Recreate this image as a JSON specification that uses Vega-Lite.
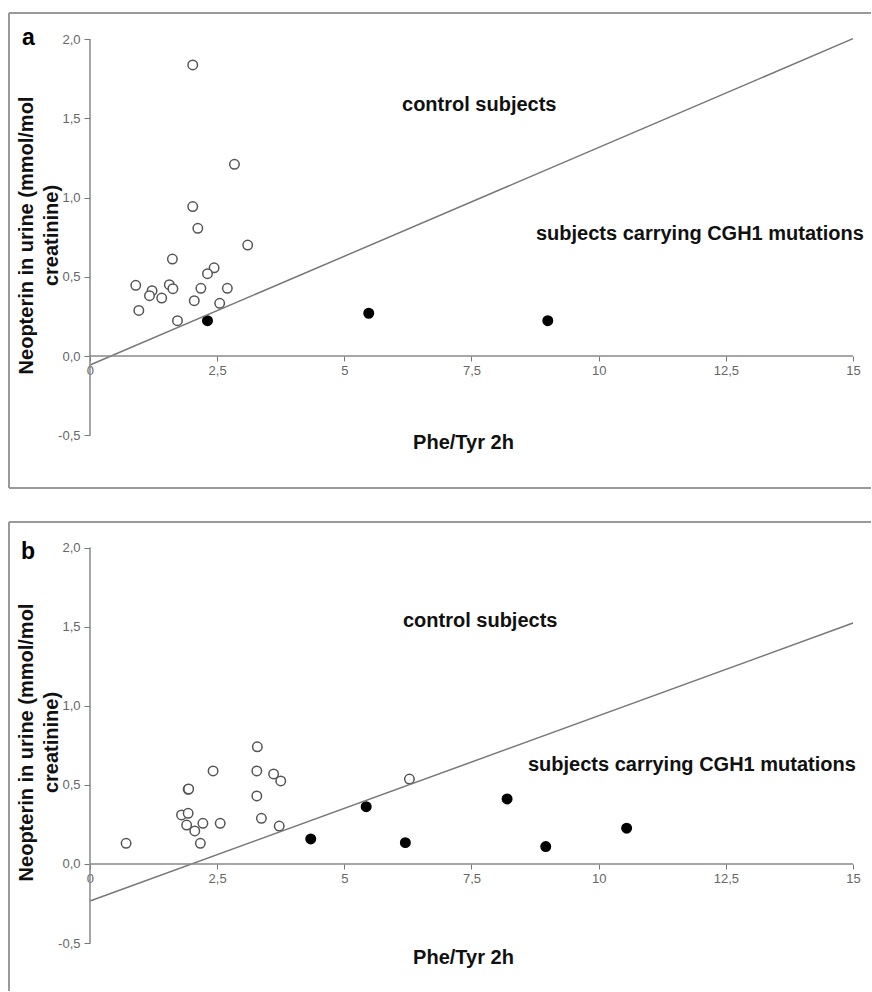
{
  "$schema": "https://vega.github.io/schema/vega-lite/v6.json",
  "padding": {"left": 8, "top": 12, "right": 0, "bottom": 0},
  "spacing": 32,
  "background": "white",
  "config": {
    "view": {"stroke": null},
    "font": "Liberation Sans",
    "axis": {
      "labelFont": "Liberation Sans",
      "titleFont": "Liberation Sans",
      "labelFontSize": 13,
      "labelColor": "#666666",
      "tickColor": "#777777",
      "tickWidth": 1,
      "grid": false,
      "domain": false,
      "titleFontSize": 20,
      "titleFontWeight": "bold",
      "titleColor": "#111111"
    }
  },
  "datasets": {
    "one": [{}],
    "pointsA": [
      {"x": 2.02, "y": 1.837, "g": "control"},
      {"x": 2.84, "y": 1.21, "g": "control"},
      {"x": 2.02, "y": 0.943, "g": "control"},
      {"x": 2.12, "y": 0.806, "g": "control"},
      {"x": 3.10, "y": 0.70, "g": "control"},
      {"x": 1.62, "y": 0.612, "g": "control"},
      {"x": 2.44, "y": 0.557, "g": "control"},
      {"x": 2.31, "y": 0.52, "g": "control"},
      {"x": 0.90, "y": 0.446, "g": "control"},
      {"x": 1.56, "y": 0.45, "g": "control"},
      {"x": 1.63, "y": 0.425, "g": "control"},
      {"x": 2.18, "y": 0.427, "g": "control"},
      {"x": 2.70, "y": 0.427, "g": "control"},
      {"x": 1.22, "y": 0.412, "g": "control"},
      {"x": 1.17, "y": 0.381, "g": "control"},
      {"x": 1.41, "y": 0.366, "g": "control"},
      {"x": 2.05, "y": 0.349, "g": "control"},
      {"x": 2.55, "y": 0.333, "g": "control"},
      {"x": 0.96, "y": 0.288, "g": "control"},
      {"x": 1.72, "y": 0.223, "g": "control"},
      {"x": 2.31, "y": 0.223, "g": "patient"},
      {"x": 5.48, "y": 0.27, "g": "patient"},
      {"x": 9.0, "y": 0.223, "g": "patient"}
    ],
    "lineA": [
      {"x": 0, "y": -0.057},
      {"x": 15, "y": 2.003}
    ],
    "pointsB": [
      {"x": 2.42, "y": 0.588, "g": "control"},
      {"x": 3.28, "y": 0.588, "g": "control"},
      {"x": 3.61, "y": 0.569, "g": "control"},
      {"x": 3.75, "y": 0.525, "g": "control"},
      {"x": 1.93, "y": 0.472, "g": "control"},
      {"x": 1.94, "y": 0.474, "g": "control"},
      {"x": 3.28, "y": 0.43, "g": "control"},
      {"x": 1.80, "y": 0.31, "g": "control"},
      {"x": 1.93, "y": 0.32, "g": "control"},
      {"x": 2.22, "y": 0.257, "g": "control"},
      {"x": 1.90, "y": 0.246, "g": "control"},
      {"x": 2.56, "y": 0.257, "g": "control"},
      {"x": 3.37, "y": 0.289, "g": "control"},
      {"x": 2.06, "y": 0.209, "g": "control"},
      {"x": 3.72, "y": 0.24, "g": "control"},
      {"x": 0.71, "y": 0.131, "g": "control"},
      {"x": 2.17, "y": 0.131, "g": "control"},
      {"x": 3.29, "y": 0.741, "g": "control"},
      {"x": 6.28, "y": 0.537, "g": "control"},
      {"x": 4.34, "y": 0.158, "g": "patient"},
      {"x": 5.43, "y": 0.362, "g": "patient"},
      {"x": 6.20, "y": 0.135, "g": "patient"},
      {"x": 8.20, "y": 0.411, "g": "patient"},
      {"x": 8.96, "y": 0.11, "g": "patient"},
      {"x": 10.55, "y": 0.226, "g": "patient"}
    ],
    "lineB": [
      {"x": 0, "y": -0.234},
      {"x": 15, "y": 1.523}
    ]
  },
  "vconcat": [
    {
      "width": 862,
      "height": 475,
      "layer": [
        {
          "data": {"name": "pointsA"},
          "mark": {"type": "point", "shape": "circle", "filled": true, "opacity": 1, "size": 90, "strokeWidth": 1.5},
          "encoding": {
            "x": {
              "field": "x", "type": "quantitative",
              "scale": {"domain": [-1.592, 15.354], "nice": false, "zero": false},
              "axis": {
                "title": "Phe/Tyr 2h",
                "values": [0, 2.5, 5, 7.5, 10, 12.5, 15],
                "labelExpr": "replace(format(datum.value, '~g'), '.', ',')",
                "offset": -132,
                "tickSize": 5,
                "labelPadding": 3,
                "titleX": 454,
                "titleY": 92,
                "titleBaseline": "alphabetic",
                "titleAlign": "center"
              }
            },
            "y": {
              "field": "y", "type": "quantitative",
              "scale": {"domain": [-0.833, 2.165], "nice": false, "zero": false},
              "axis": {
                "title": ["Neopterin in urine (mmol/mol", "creatinine)"],
                "values": [-0.5, 0, 0.5, 1, 1.5, 2],
                "labelExpr": "replace(replace(format(datum.value, '.1f'), '.', ','), '\u2212', '-')",
                "offset": -81,
                "tickSize": 6,
                "labelPadding": 4,
                "titleX": -58,
                "titleY": 222,
                "titleBaseline": "alphabetic",
                "titleLineHeight": 25,
                "titleAlign": "center"
              }
            },
            "fill": {"field": "g", "type": "nominal", "scale": {"domain": ["control", "patient"], "range": ["#ffffff", "#000000"]}, "legend": null},
            "stroke": {"field": "g", "type": "nominal", "scale": {"domain": ["control", "patient"], "range": ["#555555", "#000000"]}, "legend": null}
          }
        },
        {
          "data": {"name": "lineA"},
          "mark": {"type": "line", "color": "#777777", "strokeWidth": 1.5},
          "encoding": {
            "x": {"field": "x", "type": "quantitative"},
            "y": {"field": "y", "type": "quantitative"}
          }
        },
        {
          "data": {"name": "one"},
          "mark": {"type": "rule", "color": "#888888", "strokeWidth": 1.5},
          "encoding": {
            "x": {"datum": 0, "type": "quantitative"},
            "x2": {"datum": 15},
            "y": {"datum": 0, "type": "quantitative"}
          }
        },
        {
          "data": {"name": "one"},
          "mark": {"type": "rule", "color": "#888888", "strokeWidth": 1.5},
          "encoding": {
            "x": {"datum": 0, "type": "quantitative"},
            "y": {"datum": -0.5, "type": "quantitative"},
            "y2": {"datum": 2.0}
          }
        },
        {
          "data": {"name": "one"},
          "mark": {"type": "rule", "color": "#999999", "strokeWidth": 2},
          "encoding": {"x": {"datum": -1.592, "type": "quantitative"}}
        },
        {
          "data": {"name": "one"},
          "mark": {"type": "rule", "color": "#999999", "strokeWidth": 2},
          "encoding": {"y": {"datum": 2.165, "type": "quantitative"}}
        },
        {
          "data": {"name": "one"},
          "mark": {"type": "rule", "color": "#999999", "strokeWidth": 2},
          "encoding": {"y": {"datum": -0.833, "type": "quantitative"}}
        },
        {
          "data": {"name": "one"},
          "mark": {"type": "text", "text": "a", "align": "left", "baseline": "alphabetic", "fontSize": 23, "fontWeight": "bold", "color": "#000000"},
          "encoding": {
            "x": {"datum": -1.337, "type": "quantitative"},
            "y": {"datum": 1.963, "type": "quantitative"}
          }
        },
        {
          "data": {"name": "one"},
          "mark": {"type": "text", "text": "control subjects", "align": "left", "baseline": "alphabetic", "fontSize": 20, "fontWeight": "bold", "color": "#111111"},
          "encoding": {
            "x": {"datum": 6.134, "type": "quantitative"},
            "y": {"datum": 1.547, "type": "quantitative"}
          }
        },
        {
          "data": {"name": "one"},
          "mark": {"type": "text", "text": "subjects carrying CGH1 mutations", "align": "left", "baseline": "alphabetic", "fontSize": 20, "fontWeight": "bold", "color": "#111111"},
          "encoding": {
            "x": {"datum": 8.768, "type": "quantitative"},
            "y": {"datum": 0.732, "type": "quantitative"}
          }
        }
      ]
    },
    {
      "width": 862,
      "height": 469,
      "layer": [
        {
          "data": {"name": "pointsB"},
          "mark": {"type": "point", "shape": "circle", "filled": true, "opacity": 1, "size": 90, "strokeWidth": 1.5},
          "encoding": {
            "x": {
              "field": "x", "type": "quantitative",
              "scale": {"domain": [-1.592, 15.354], "nice": false, "zero": false},
              "axis": {
                "title": "Phe/Tyr 2h",
                "values": [0, 2.5, 5, 7.5, 10, 12.5, 15],
                "labelExpr": "replace(format(datum.value, '~g'), '.', ',')",
                "offset": -127,
                "tickSize": 5,
                "labelPadding": 3,
                "titleX": 454,
                "titleY": 99,
                "titleBaseline": "alphabetic",
                "titleAlign": "center"
              }
            },
            "y": {
              "field": "y", "type": "quantitative",
              "scale": {"domain": [-0.803, 2.162], "nice": false, "zero": false},
              "axis": {
                "title": ["Neopterin in urine (mmol/mol", "creatinine)"],
                "values": [-0.5, 0, 0.5, 1, 1.5, 2],
                "labelExpr": "replace(replace(format(datum.value, '.1f'), '.', ','), '\u2212', '-')",
                "offset": -81,
                "tickSize": 6,
                "labelPadding": 4,
                "titleX": -58,
                "titleY": 220,
                "titleBaseline": "alphabetic",
                "titleLineHeight": 25,
                "titleAlign": "center"
              }
            },
            "fill": {"field": "g", "type": "nominal", "scale": {"domain": ["control", "patient"], "range": ["#ffffff", "#000000"]}, "legend": null},
            "stroke": {"field": "g", "type": "nominal", "scale": {"domain": ["control", "patient"], "range": ["#555555", "#000000"]}, "legend": null}
          }
        },
        {
          "data": {"name": "lineB"},
          "mark": {"type": "line", "color": "#777777", "strokeWidth": 1.5},
          "encoding": {
            "x": {"field": "x", "type": "quantitative"},
            "y": {"field": "y", "type": "quantitative"}
          }
        },
        {
          "data": {"name": "one"},
          "mark": {"type": "rule", "color": "#888888", "strokeWidth": 1.5},
          "encoding": {
            "x": {"datum": 0, "type": "quantitative"},
            "x2": {"datum": 15},
            "y": {"datum": 0, "type": "quantitative"}
          }
        },
        {
          "data": {"name": "one"},
          "mark": {"type": "rule", "color": "#888888", "strokeWidth": 1.5},
          "encoding": {
            "x": {"datum": 0, "type": "quantitative"},
            "y": {"datum": -0.5, "type": "quantitative"},
            "y2": {"datum": 2.0}
          }
        },
        {
          "data": {"name": "one"},
          "mark": {"type": "rule", "color": "#999999", "strokeWidth": 2},
          "encoding": {"x": {"datum": -1.592, "type": "quantitative"}}
        },
        {
          "data": {"name": "one"},
          "mark": {"type": "rule", "color": "#999999", "strokeWidth": 2},
          "encoding": {"y": {"datum": 2.162, "type": "quantitative"}}
        },
        {
          "data": {"name": "one"},
          "mark": {"type": "text", "text": "b", "align": "left", "baseline": "alphabetic", "fontSize": 23, "fontWeight": "bold", "color": "#000000"},
          "encoding": {
            "x": {"datum": -1.356, "type": "quantitative"},
            "y": {"datum": 1.928, "type": "quantitative"}
          }
        },
        {
          "data": {"name": "one"},
          "mark": {"type": "text", "text": "control subjects", "align": "left", "baseline": "alphabetic", "fontSize": 20, "fontWeight": "bold", "color": "#111111"},
          "encoding": {
            "x": {"datum": 6.153, "type": "quantitative"},
            "y": {"datum": 1.498, "type": "quantitative"}
          }
        },
        {
          "data": {"name": "one"},
          "mark": {"type": "text", "text": "subjects carrying CGH1 mutations", "align": "left", "baseline": "alphabetic", "fontSize": 20, "fontWeight": "bold", "color": "#111111"},
          "encoding": {
            "x": {"datum": 8.61, "type": "quantitative"},
            "y": {"datum": 0.588, "type": "quantitative"}
          }
        }
      ]
    }
  ]
}
